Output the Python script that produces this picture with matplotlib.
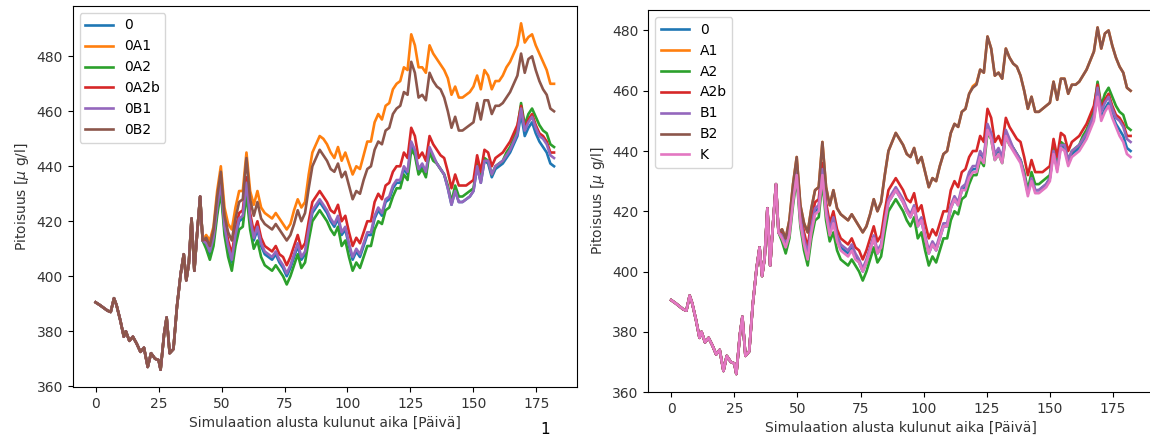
import numpy as np
import matplotlib
matplotlib.use("Agg")
import matplotlib.pyplot as plt

# common start of every run (days 0..42.5), concentration in ug/l
shared_days = [0, 1.7, 3.2, 4.7, 6, 7.3, 8.3, 9.8, 11.2, 12, 13.4, 14.8, 16.3, 17.8,
               19.2, 20.7, 22, 23.6, 25, 25.8, 27.2, 28.2, 29.4, 30.9, 32.3, 33.8,
               35, 36, 37, 38.1, 39.2, 40.3, 41.5, 42.5]
shared_vals = [390.5, 389.5, 388.5, 387.5, 387, 392, 389.5, 384, 378, 380, 376.5, 378,
               375.5, 372.5, 374, 367, 372, 370, 369.5, 366, 379, 385, 372, 373.5,
               389, 401, 408, 398.5, 404.5, 421, 402, 415.5, 429, 413]

# run "0" after the split (day 43.9 .. 182)
tail_base = [411, 408, 413, 424, 433,
             417, 410, 405, 414, 420, 421, 433,
             420, 413, 417, 411, 408, 407, 406,
             408, 405, 403, 400, 403, 407, 411,
             406, 408, 416, 423, 425, 427, 425,
             423, 420, 418, 421, 415, 417, 411,
             406, 409, 407, 411, 415, 415, 421,
             424, 422, 427, 428, 432, 434, 434,
             439, 437, 448, 445, 438, 440, 437,
             446, 443, 441, 439, 437, 432, 426,
             431, 427, 427, 428, 429, 431, 440,
             434, 442, 441, 436, 439, 440, 441,
             443, 445, 448, 451, 459, 451, 454,
             456, 452, 449, 447, 445, 441, 440]

# difference of each run from run "0"
off_a1 = [4, 5, 5, 7, 7,
          8, 9, 12, 11, 11, 10, 12,
          11, 13, 14, 14, 15, 15, 15,
          15, 16, 16, 17, 16, 17, 17,
          19, 19, 21, 22, 23, 24, 25,
          25, 25, 25, 26, 27, 28, 30,
          31, 31, 32, 33, 34, 34, 35,
          35, 35, 35, 35, 36, 36, 37,
          37, 38, 40, 39, 38, 36, 37,
          38, 38, 38, 38, 38, 40, 40,
          38, 38, 38, 38, 38, 38, 33,
          34, 33, 32, 32, 32, 31, 32,
          33, 33, 33, 33, 33, 34, 33,
          32, 32, 32, 31, 30, 29, 30]
off_b2 = [3, 3, 4, 5, 5,
          5, 6, 8, 7, 7, 7, 10,
          8, 9, 10, 10, 11, 11, 11,
          11, 12, 12, 13, 12, 12, 13,
          14, 15, 16, 17, 18, 19, 19,
          19, 19, 20, 20, 21, 21, 22,
          22, 22, 23, 24, 24, 25, 25,
          25, 26, 26, 26, 27, 27, 28,
          28, 29, 30, 29, 27, 26, 27,
          28, 28, 28, 29, 28, 28, 28,
          27, 26, 26, 26, 26, 25, 23,
          23, 22, 23, 23, 23, 22, 22,
          22, 22, 22, 22, 22, 23, 25,
          24, 23, 22, 21, 21, 20, 20]
off_a1_right = [3, 3, 4, 5, 5,
                5, 6, 8, 7, 7, 7, 10,
                8, 9, 10, 10, 11, 11, 11,
                11, 12, 12, 13, 12, 12, 13,
                14, 15, 16, 17, 18, 19, 19,
                19, 19, 20, 20, 21, 21, 22,
                22, 22, 23, 24, 24, 25, 25,
                25, 26, 26, 26, 27, 27.5, 28.5,
                28, 29, 30, 29, 27, 26, 27,
                28, 28, 28, 29, 28, 28, 28,
                27, 26, 26, 26, 26, 25, 23,
                23, 22, 23, 23, 23, 22, 22,
                22, 22, 22, 22, 22, 23, 25,
                24, 23, 22, 21, 21, 20, 20]
off_a2 = [-1, -2, -2, -2, -2,
          -2, -3, -3, -3, -3, -3, -3,
          -3, -3, -4, -4, -4, -4, -4,
          -4, -3, -3, -3, -3, -3, -3,
          -3, -3, -3, -3, -3, -3, -3,
          -3, -3, -3, -3, -4, -4, -4,
          -4, -4, -4, -4, -4, -4, -4,
          -4, -3, -3, -3, -3, -2, -2,
          -2, -2, -2, -1, -1, -1, -1,
          -1, -1, 0, 0, 0, 1, 1,
          2, 2, 2, 2, 2, 1, 1,
          1, 1, 1, 1, 1, 1, 1,
          2, 2, 2, 3, 4, 4, 5,
          5, 6, 6, 6, 7, 7, 7]
off_a2b = [2, 2, 2, 3, 3,
           3, 3, 3, 3, 3, 3, 3,
           3, 3, 3, 3, 3, 3, 3,
           3, 3, 4, 4, 4, 4, 4,
           4, 4, 4, 4, 4, 4, 4,
           4, 4, 5, 5, 5, 5, 5,
           5, 5, 5, 5, 5, 5, 6,
           6, 6, 6, 6, 6, 6, 6,
           6, 6, 6, 6, 5, 5, 5,
           5, 5, 5, 5, 6, 6, 6,
           6, 6, 6, 5, 5, 4, 4,
           4, 4, 4, 4, 4, 4, 4,
           4, 4, 4, 4, 3, 3, 3,
           3, 3, 3, 4, 4, 4, 5]
off_b1 = [1, 1, 1, 1, 1,
          1, 1, 1, 1, 1, 1, 1,
          1, 1, 1, 1, 1, 1, 1,
          1, 1, 1, 1, 1, 1, 1,
          1, 1, 1, 1, 1, 1, 1,
          1, 1, 1, 1, 1, 1, 1,
          1, 1, 1, 1, 1, 1, 1,
          1, 1, 1, 1, 1, 1, 1,
          1, 1, 1, 1, 1, 1, 1,
          1, 1, 0, 0, 0, 0, 0,
          0, 0, 0, 0, 0, 0, 0,
          0, 0, 1, 1, 1, 1, 1,
          1, 1, 1, 1, 2, 2, 2,
          2, 2, 2, 3, 3, 3, 3]
off_k = [0, 0, -1, -1, -1,
         -1, -1, -1, -1, -1, -1, -1,
         -1, -1, -1, -1, -1, -1, -1,
         -1, -1, 0, 0, 0, 0, 0,
         0, 0, 0, 0, 0, 0, 0,
         0, 0, 0, 0, 0, 0, 0,
         0, 0, 0, 0, 0, 0, 0,
         0, 0, 0, -1, -1, -1, -1,
         -1, -1, -1, -1, -1, -1, -1,
         -1, -1, -1, -1, -1, -1, -1,
         -1, -1, -1, -1, -1, -1, -1,
         -1, -1, -1, -1, -1, -1, -1,
         -1, -1, -1, -1, -1, -1, -1,
         -1, -1, -1, -2, -2, -2, -2]
off_zero = [0] * len(tail_base)

labels_left = ["0", "0A1", "0A2", "0A2b", "0B1", "0B2"]
offs_left = [off_zero, off_a1, off_a2, off_a2b, off_b1, off_b2]
labels_right = ["0", "A1", "A2", "A2b", "B1", "B2", "K"]
offs_right = [off_zero, off_a1_right, off_a2, off_a2b, off_b1, off_b2, off_k]

tail_days = np.linspace(43.9, 182, len(tail_base))
days = np.concatenate([shared_days, tail_days])


def series(off):
    return np.concatenate([shared_vals, np.array(tail_base) + np.array(off)])


fig = plt.figure(figsize=(11.5, 4.41), dpi=100)
ax1 = fig.add_axes([0.0632, 0.1224, 0.4385, 0.864])
ax2 = fig.add_axes([0.5637, 0.111, 0.4394, 0.866])

for ax, labels, offs in [(ax1, labels_left, offs_left), (ax2, labels_right, offs_right)]:
    for lab, off in zip(labels, offs):
        ax.plot(days, series(off), label=lab, lw=1.9)
    ax.set_xticks([0, 25, 50, 75, 100, 125, 150, 175])
    ax.set_yticks([360, 380, 400, 420, 440, 460, 480])
    ax.set_xlabel("Simulaation alusta kulunut aika [Päivä]", fontsize=10, color="#333333")
    ax.set_ylabel(r"Pitoisuus [$\mu$ g/l]", fontsize=10, color="#333333")
    ax.tick_params(labelsize=10, labelcolor="#333333")
    ax.legend(loc="upper left", fontsize=10)

fig.text(0.47, 0.015, "1", fontsize=11)

fig.savefig("out.png", dpi=100)
